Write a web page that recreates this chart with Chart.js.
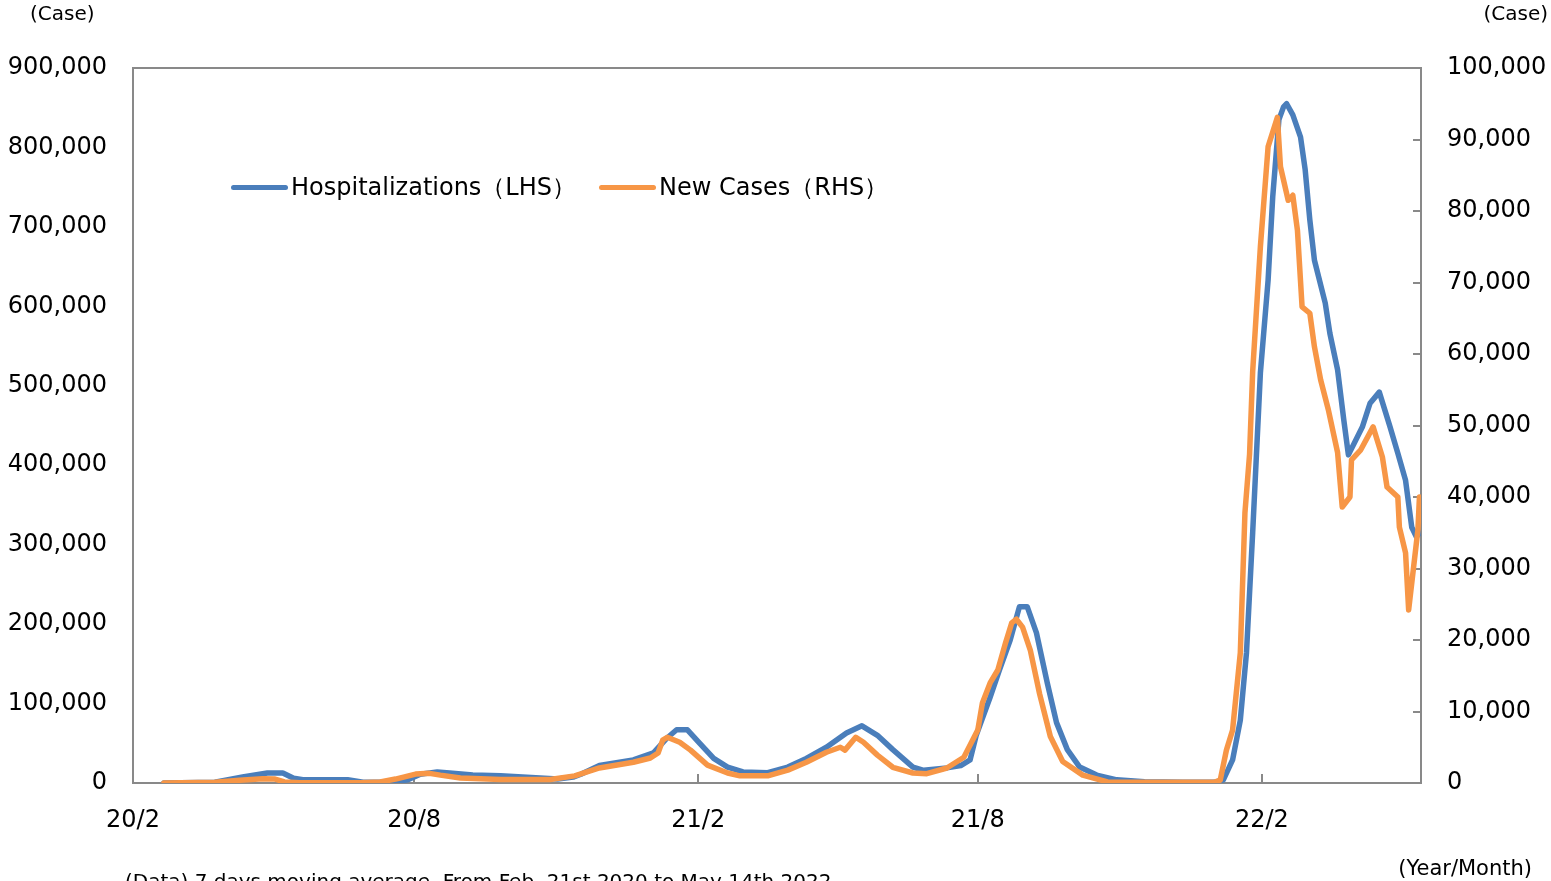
<!DOCTYPE html>
<html>
<head>
<meta charset="utf-8">
<script src="https://cdn.jsdelivr.net/npm/chart.js@4"></script>
<style>
  html, body { margin: 0; padding: 0; background: #fff; overflow: hidden; }
  body { width: 1551px; height: 881px; position: relative; font-family: 'DejaVu Sans', sans-serif; color: #000; }
  #chart { position: absolute; left: 0; top: 0; }
  .txt { position: absolute; white-space: nowrap; font-size: 20px; line-height: 24px; }
  #legend { position: absolute; left: 231px; top: 172px; display: flex; align-items: center; font-size: 24px; line-height: 30px; }
  #legend .item { display: flex; align-items: center; margin-right: 23px; }
  #legend .swatch { width: 57px; height: 5px; border-radius: 3px; margin-right: 3px; }
</style>
</head>
<body>
<canvas id="chart" width="1551" height="881"></canvas>
<div class="txt" style="left:30px; top:1px;">(Case)</div>
<div class="txt" style="right:3px; top:1px;">(Case)</div>
<div class="txt" style="right:19px; top:856px; font-size:21px;">(Year/Month)</div>
<div class="txt" style="left:125px; top:869px;">(Data) 7 days moving average. From Feb. 21st 2020 to May 14th 2022</div>
<div id="legend"></div>
<script>
// x values are days counted from 2020-02-01
const xTickDays = [0, 182, 366, 547, 731];
const xTickLabels = ['20/2', '20/8', '21/2', '21/8', '22/2'];

// Hospitalizations (left axis)
const hospDays = [20, 53, 71, 87, 97, 104, 110, 139, 149, 167, 178, 186, 197, 205, 220, 238, 275, 285, 290,
  302, 324, 337, 346, 352, 359, 367, 376, 385, 395, 411, 424, 436, 449, 462, 472, 482, 492, 505, 512, 527,
  536, 542, 546, 549, 555, 561, 568, 574, 579, 585, 592, 598, 605, 613, 624, 637, 655, 680, 700,
  706, 712, 717, 721, 725, 730, 735, 738, 742, 745, 747, 751, 756, 759, 762, 765, 772, 775, 780,
  784, 787, 796, 801, 807, 814, 819, 824, 828, 831, 833];
const hospValues = [0, 1000, 7500, 12600, 12600, 6000, 4000, 4000, 1000, 1000, 4000, 11000, 14000, 12600, 10000, 9000, 5000, 7500, 11000,
  22000, 29000, 38000, 57000, 67000, 67000, 50000, 31000, 20000, 14000, 13000, 20000, 31000, 45000, 63000, 72000, 60000, 42000, 20000, 16000, 19000,
  22000, 29000, 60000, 76000, 108000, 142000, 180000, 222000, 222000, 189000, 126000, 76000, 42000, 20000, 10000, 4000, 1500, 1000, 800,
  4000, 29000, 79000, 164000, 315000, 516000, 633000, 738000, 835000, 851000, 855000, 841000, 813000, 772000, 709000, 658000, 604000, 566000, 520000,
  457000, 413000, 448000, 478000, 492000, 448000, 415000, 381000, 322000, 310000, 315000];

// New cases (right axis)
const caseDays = [20, 53, 69, 84, 92, 98, 108, 147, 160, 170, 183, 192, 199, 212, 238, 270, 286,
  302, 324, 335, 340, 343, 346, 354, 361, 372, 385, 393, 411, 424, 436, 449, 458, 461, 468, 473, 482, 492, 505, 514, 527,
  538, 547, 550, 555, 560, 565, 569, 572, 576, 581, 587, 594, 602, 615, 631, 700,
  704, 708, 712, 717, 720, 723, 725, 730, 735, 741, 743, 748, 751, 754, 757, 762, 765, 769, 774, 780,
  783, 788, 789, 795, 803, 809, 812, 819, 820, 824, 826, 829, 832, 833];
const caseValues = [0, 100, 400, 600, 550, 150, 50, 50, 150, 550, 1250, 1350, 1100, 700, 500, 500, 1000,
  2100, 2900, 3500, 4200, 6000, 6400, 5700, 4600, 2500, 1400, 1000, 1000, 1800, 2900, 4300, 5000, 4600, 6400, 5700, 3900, 2200, 1400, 1300, 2100,
  3600, 7400, 11200, 14000, 15800, 19600, 22400, 22900, 21800, 18600, 12500, 6500, 3000, 1100, 150, 100,
  400, 4600, 7400, 18200, 37800, 46000, 57500, 75000, 89000, 93100, 86200, 81500, 82200, 77300, 66600, 65700, 61000, 56400, 52200, 46200,
  38600, 40000, 45200, 46600, 49800, 45600, 41400, 40000, 35800, 32200, 24200, 29800, 35400, 40000];

const leftTicks = [0, 100000, 200000, 300000, 400000, 500000, 600000, 700000, 800000, 900000];
const rightTicks = [0, 10000, 20000, 30000, 40000, 50000, 60000, 70000, 80000, 90000, 100000];

const toPoints = (xs, ys) => xs.map((x, i) => ({ x: x, y: ys[i] }));
const fmt = v => v.toLocaleString('en-US');

const axisGray = '#898989';

Chart.defaults.font.family = "'DejaVu Sans', sans-serif";
Chart.defaults.font.size = 24;
Chart.defaults.color = '#000';

// frame around the plot and the short inward tick marks
const framePlugin = {
  id: 'frame',
  beforeDatasetsDraw(chart) {
    const { ctx, chartArea: a, scales } = chart;
    ctx.save();
    ctx.strokeStyle = axisGray;
    ctx.lineWidth = 2;
    ctx.strokeRect(a.left, a.top, a.right - a.left, a.bottom - a.top);
    ctx.beginPath();
    rightTicks.forEach(v => {
      const y = Math.round(scales.yR.getPixelForValue(v));
      ctx.moveTo(a.right - 8, y);
      ctx.lineTo(a.right, y);
    });
    xTickDays.forEach(d => {
      const x = Math.round(scales.x.getPixelForValue(d));
      ctx.moveTo(x, a.bottom);
      ctx.lineTo(x, a.bottom - 9);
    });
    ctx.stroke();
    ctx.restore();
  }
};

const chart = new Chart(document.getElementById('chart'), {
  type: 'line',
  data: {
    datasets: [
      {
        label: 'Hospitalizations（LHS）',
        data: toPoints(hospDays, hospValues),
        yAxisID: 'yL',
        borderColor: '#4a7ebb',
        order: 1
      },
      {
        label: 'New Cases（RHS）',
        data: toPoints(caseDays, caseValues),
        yAxisID: 'yR',
        borderColor: '#f79646',
        order: 0
      }
    ]
  },
  options: {
    responsive: false,
    animation: false,
    devicePixelRatio: 1,
    layout: { padding: { top: 68, left: 0, right: 0, bottom: 0 } },
    elements: {
      line: { borderWidth: 5.5, tension: 0, borderJoinStyle: 'round', borderCapStyle: 'round', fill: false },
      point: { radius: 0, hoverRadius: 0 }
    },
    plugins: { legend: { display: false }, tooltip: { enabled: false } },
    scales: {
      x: {
        type: 'linear',
        position: 'bottom',
        min: 0,
        max: 834,
        grid: { display: false, drawTicks: false },
        border: { display: false },
        afterBuildTicks: s => { s.ticks = xTickDays.map(v => ({ value: v })); },
        afterFit: s => { s.height = 98; },
        ticks: {
          autoSkip: false,
          maxRotation: 0,
          padding: 23,
          callback: v => xTickLabels[xTickDays.indexOf(v)]
        }
      },
      yL: {
        position: 'left',
        min: 0,
        max: 900000,
        grid: { display: false, drawTicks: false },
        border: { display: false },
        afterBuildTicks: s => { s.ticks = leftTicks.map(v => ({ value: v })); },
        afterFit: s => { s.width = 133; },
        ticks: { padding: 26, callback: v => fmt(v) }
      },
      yR: {
        position: 'right',
        min: 0,
        max: 100000,
        grid: { display: false, drawTicks: false },
        border: { display: false },
        afterBuildTicks: s => { s.ticks = rightTicks.map(v => ({ value: v })); },
        afterFit: s => { s.width = 130; },
        ticks: { padding: 26, callback: v => fmt(v) }
      }
    }
  },
  plugins: [framePlugin]
});

// legend built from the datasets, in dataset order
const legend = document.getElementById('legend');
chart.data.datasets.forEach(ds => {
  const item = document.createElement('div');
  item.className = 'item';
  const sw = document.createElement('span');
  sw.className = 'swatch';
  sw.style.background = ds.borderColor;
  const label = document.createElement('span');
  label.textContent = ds.label;
  item.appendChild(sw);
  item.appendChild(label);
  legend.appendChild(item);
});
</script>
</body>
</html>
